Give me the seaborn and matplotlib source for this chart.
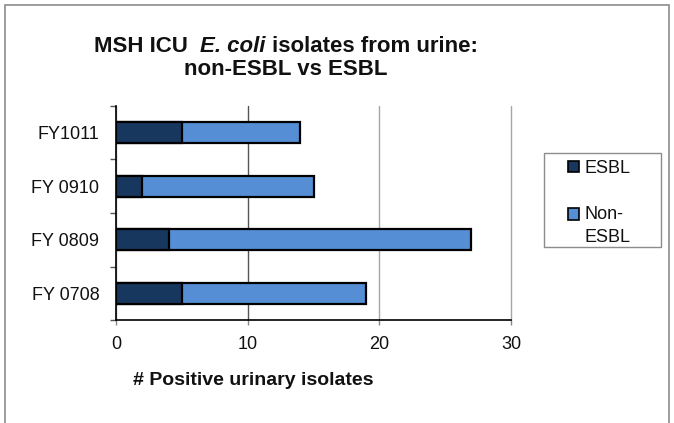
import matplotlib
matplotlib.use("Agg")
import matplotlib.pyplot as plt
from matplotlib.patches import Rectangle, Patch
import seaborn as sns

sns.set_theme(style="white")
plt.rcParams["font.family"] = ["Liberation Sans", "DejaVu Sans"]

# data
years = ["FY1011", "FY 0910", "FY 0809", "FY 0708"]
esbl = [5, 2, 4, 5]
non_esbl = [9, 13, 23, 14]
totals = [a + b for a, b in zip(esbl, non_esbl)]

dark = "#17375E"
light = "#558ED5"

W, H = 674, 423
fig = plt.figure(figsize=(W / 100, H / 100), dpi=100)
ax = fig.add_axes([116 / W, 1 - 320 / H, 395 / W, 214 / H])

# stacked bars: full total in light blue, ESBL part over it
sns.barplot(x=totals, y=years, orient="h", color=light, saturation=1,
            edgecolor="black", linewidth=1.6, width=0.4, ax=ax)
sns.barplot(x=esbl, y=years, orient="h", color=dark, saturation=1,
            edgecolor="black", linewidth=1.6, width=0.4, ax=ax)

ax.set_xlim(0, 30)
ax.set_ylim(3.5, -0.5)
ax.set_xticks([0, 10, 20, 30])
ax.set_yticks([-0.5, 0.5, 1.5, 2.5, 3.5], minor=True)
ax.set_xlabel("")
ax.set_ylabel("")
ax.set_axisbelow(True)
ax.xaxis.grid(True)
for i, gl in enumerate(ax.get_xgridlines()):
    gl.set_color("#555555" if i == 1 else "#a6a6a6")
    gl.set_linewidth(1.0)
    gl.set_clip_on(False)

for s in ["top", "right"]:
    ax.spines[s].set_visible(False)
for s in ["left", "bottom"]:
    ax.spines[s].set_color("black")
    ax.spines[s].set_linewidth(1.2)

ax.tick_params(axis="y", which="major", left=False, length=0, pad=12,
               labelsize=13, labelcolor="#111111")
ax.tick_params(axis="y", which="minor", left=True, length=4.5, width=1,
               color="#555555", direction="out")
ax.tick_params(axis="x", which="major", bottom=True, length=3.5, width=1,
               color="#888888", pad=8, labelsize=13, labelcolor="#111111")

# x label, placed like the original (left of the axis centre)
fig.text(253 / W, 1 - 385 / H, "# Positive urinary isolates", ha="center",
         va="baseline", fontsize=14, fontweight="bold", color="#111111")

# title with italic species name
fig.canvas.draw()
r = fig.canvas.get_renderer()
pieces = [("MSH ICU  ", "normal"), ("E. coli", "italic"), (" isolates from urine:", "normal")]
base1 = 1 - 52 / H
texts = []
for s, st in pieces:
    t = fig.text(0, base1, s, fontsize=16, fontweight="bold", style=st,
                 va="baseline", ha="left", color="#111111")
    texts.append(t)
widths = [t.get_window_extent(r).width for t in texts]
x0 = 286 - sum(widths) / 2
for t, w in zip(texts, widths):
    t.set_x(x0 / W)
    x0 += w
fig.text(286 / W, 1 - 75 / H, "non-ESBL vs ESBL", fontsize=16,
         fontweight="bold", ha="center", va="baseline", color="#111111")

# legend
handles = [Patch(facecolor=dark, edgecolor="black", linewidth=1.2),
           Patch(facecolor=light, edgecolor="black", linewidth=1.2)]
leg = fig.legend(handles, ["ESBL", "Non-\nESBL"], loc="upper left",
                 bbox_to_anchor=(568 / W, 1 - 160 / H), frameon=False,
                 fontsize=13, borderpad=0, borderaxespad=0,
                 handlelength=0.6, handleheight=0.6, handletextpad=0.3,
                 labelspacing=1.6)
for t in leg.get_texts():
    t.set_color("#111111")
leg.get_texts()[1].set_linespacing(1.5)
h2 = leg.legend_handles[1]
h2.set_y(h2.get_y() + 9)
fig.patches.append(Rectangle((544 / W, 1 - 247 / H), 117 / W, 94 / H,
                             transform=fig.transFigure, fill=False,
                             edgecolor="#8c8c8c", linewidth=1))

# outer chart border
fig.patches.append(Rectangle((5 / W, -0.05), 664 / W, 1.05 - 5 / H,
                             transform=fig.transFigure, fill=False,
                             edgecolor="#8c8c8c", linewidth=1.2))

fig.savefig("out.png", dpi=100)
